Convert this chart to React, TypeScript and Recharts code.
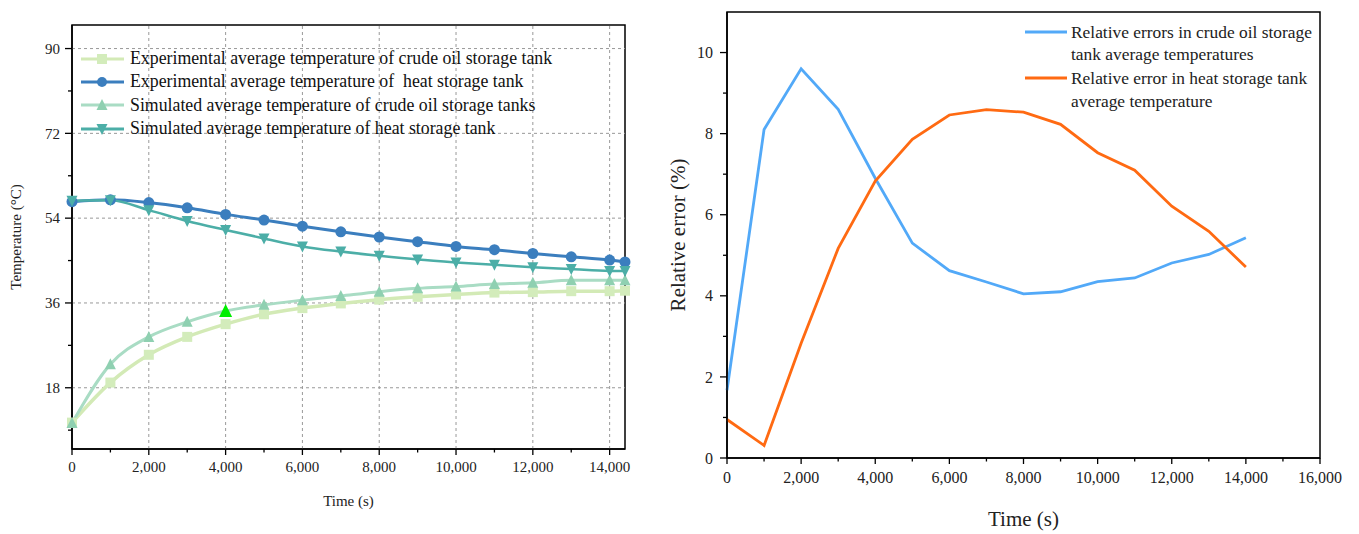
import React from "react";
import { LineChart, Line, XAxis, YAxis, ReferenceLine, ReferenceArea, Legend, Label } from "recharts";

// left chart: temperatures
const leftTimes = [0, 1000, 2000, 3000, 4000, 5000, 6000, 7000, 8000, 9000, 10000, 11000, 12000, 13000, 14000, 14400];
const expCrude = [10.6, 19.1, 25.0, 28.8, 31.5, 33.6, 34.9, 35.9, 36.7, 37.3, 37.8, 38.2, 38.3, 38.5, 38.5, 38.6];
const expHeat = [57.5, 57.9, 57.3, 56.2, 54.8, 53.6, 52.3, 51.1, 50.0, 49.0, 48.0, 47.3, 46.5, 45.8, 45.1, 44.7];
const simCrude = [10.5, 23.0, 28.8, 32.0, 34.3, 35.6, 36.6, 37.5, 38.4, 39.1, 39.5, 40.0, 40.3, 40.8, 40.8, 40.8];
const simHeat = [57.7, 57.8, 55.7, 53.4, 51.5, 49.7, 48.0, 46.9, 46.0, 45.2, 44.6, 44.1, 43.6, 43.2, 42.8, 42.8];
const highlightTime = 4000;

const leftXTicks = [0, 1000, 2000, 3000, 4000, 5000, 6000, 7000, 8000, 9000, 10000, 11000, 12000, 13000, 14000];
const leftYTicks = [9, 18, 27, 36, 45, 54, 63, 72, 81, 90];
const leftXGrid = [2000, 4000, 6000, 8000, 10000, 12000, 14000];
const leftYGrid = [18, 36, 54, 72, 90];

const leftNames = [
  "Experimental average temperature of crude oil storage tank",
  "Experimental average temperature of  heat storage tank",
  "Simulated average temperature of crude oil storage tanks",
  "Simulated average temperature of heat storage tank",
];

// right chart: relative errors
const rightTimes = [0, 1000, 2000, 3000, 4000, 5000, 6000, 7000, 8000, 9000, 10000, 11000, 12000, 13000, 14000];
const crudeError = [1.67, 8.1, 9.6, 8.6, 6.9, 5.3, 4.62, 4.34, 4.05, 4.1, 4.35, 4.44, 4.81, 5.02, 5.43];
const heatError = [0.95, 0.31, 2.83, 5.17, 6.83, 7.86, 8.46, 8.59, 8.53, 8.23, 7.53, 7.1, 6.21, 5.59, 4.71];
const rightXTicks = [0, 1000, 2000, 3000, 4000, 5000, 6000, 7000, 8000, 9000, 10000, 11000, 12000, 13000, 14000, 15000, 16000];
const rightYTicks = [0, 1, 2, 3, 4, 5, 6, 7, 8, 9, 10];

const rightNames = [
  ["Relative errors in crude oil storage", "tank average temperatures"],
  ["Relative error in heat storage tank", "average temperature"],
];

const FONT = "'Liberation Serif', 'Times New Roman', serif";
const TS = 7;
const TM = 4;

const leftData = leftTimes.map((t, i) => ({
  t,
  expCrude: expCrude[i],
  expHeat: expHeat[i],
  simCrude: simCrude[i],
  simHeat: simHeat[i],
}));

const rightData = rightTimes.map((t, i) => ({ t, crude: crudeError[i], heat: heatError[i] }));

const fmt = (v: number) => v.toLocaleString("en-US");

const xTick = (majorStep: number, fontSize: number, labelDy: number) => (props: any) => {
  const { x, y, payload } = props;
  const v = payload.value;
  const major = v % majorStep === 0;
  const y0 = y - TS - TM;
  return (
    <g key={"xt" + v}>
      <line x1={x} x2={x} y1={y0} y2={y0 + (major ? 6 : 3.5)} stroke="#000" strokeWidth={1.3} />
      {major && (
        <text x={x} y={y0 + labelDy} textAnchor="middle" fontFamily={FONT} fontSize={fontSize} fill="#222">
          {fmt(v)}
        </text>
      )}
    </g>
  );
};

const yTick = (majorStep: number, fontSize: number, gap: number) => (props: any) => {
  const { x, y, payload } = props;
  const v = payload.value;
  const major = v % majorStep === 0;
  const x0 = x + TS + TM;
  return (
    <g key={"yt" + v}>
      <line x1={x0} x2={x0 - (major ? 7 : 4)} y1={y} y2={y} stroke="#000" strokeWidth={1.3} />
      {major && (
        <text x={x0 - gap} y={y + fontSize * 0.35} textAnchor="end" fontFamily={FONT} fontSize={fontSize} fill="#222">
          {v}
        </text>
      )}
    </g>
  );
};

const marker = (shape: string, color: string, cx: number, cy: number, key: any, size = 11) => {
  const h = size / 2;
  if (shape === "square") return <rect key={key} x={cx - h} y={cy - h} width={size} height={size} fill={color} />;
  if (shape === "circle") return <circle key={key} cx={cx} cy={cy} r={h} fill={color} />;
  if (shape === "up")
    return <polygon key={key} points={`${cx},${cy - h - 1} ${cx - h - 0.5},${cy + h} ${cx + h + 0.5},${cy + h}`} fill={color} />;
  return <polygon key={key} points={`${cx},${cy + h + 1} ${cx - h - 0.5},${cy - h} ${cx + h + 0.5},${cy - h}`} fill={color} />;
};

const leftStyles = [
  { key: "expCrude", line: "#d3eab6", mark: "#d3ecbb", shape: "square", width: 3.5, size: 10 },
  { key: "expHeat", line: "#3b7ebe", mark: "#3b7ebe", shape: "circle", width: 3, size: 11 },
  { key: "simCrude", line: "#a9dcc4", mark: "#8fd0b1", shape: "up", width: 3, size: 10 },
  { key: "simHeat", line: "#4caea7", mark: "#4caea7", shape: "down", width: 2.5, size: 10 },
];

const LeftLegend = () => (
  <div style={{ fontFamily: FONT, fontSize: 17.8, color: "#111", lineHeight: "23.3px" }}>
    {leftStyles.map((s, i) => (
      <div key={s.key} style={{ display: "flex", alignItems: "center", height: 23.3, whiteSpace: "pre" }}>
        <svg width={48} height={16} style={{ marginRight: 3 }}>
          <line x1={2} x2={45} y1={8} y2={8} stroke={s.line} strokeWidth={3} />
          {marker(s.shape, s.mark, 23, 8, "m", 10)}
        </svg>
        <span>{leftNames[i]}</span>
      </div>
    ))}
  </div>
);

const rightColors = ["#52a9f8", "#ff6a12"];

const RightLegend = () => (
  <div style={{ fontFamily: FONT, fontSize: 17.4, color: "#222", lineHeight: "22.5px" }}>
    {rightNames.map((lines, i) => (
      <div key={i} style={{ display: "flex", alignItems: "flex-start", whiteSpace: "nowrap", marginBottom: 1.5 }}>
        <svg width={46} height={22} style={{ marginRight: 0 }}>
          <line x1={0} x2={42} y1={11} y2={11} stroke={rightColors[i]} strokeWidth={3} />
        </svg>
        <div>
          {lines.map((l) => (
            <div key={l} style={{ height: 22.5 }}>{l}</div>
          ))}
        </div>
      </div>
    ))}
  </div>
);

function TemperatureChart() {
  return (
    <LineChart width={640} height={534} data={leftData} margin={{ top: 25, right: 15, left: 0, bottom: 0 }}>
      <XAxis
        dataKey="t"
        type="number"
        domain={[0, 14400]}
        ticks={leftXTicks}
        interval={0}
        height={85}
        tickSize={TS}
        tickMargin={TM}
        tickLine={false}
        axisLine={{ stroke: "#000", strokeWidth: 1.5 }}
        tick={xTick(2000, 15, 23)}
      >
        <Label value="Time (s)" position="insideBottom" offset={28} style={{ fontFamily: FONT, fontSize: 15, fill: "#222" }} />
      </XAxis>
      <YAxis
        type="number"
        domain={[5, 95]}
        ticks={leftYTicks}
        interval={0}
        width={72}
        tickSize={TS}
        tickMargin={TM}
        tickLine={false}
        axisLine={{ stroke: "#000", strokeWidth: 1.5 }}
        tick={yTick(18, 15, 12)}
      >
        <Label
          value="Temperature (°C)"
          position="insideLeft"
          angle={-90}
          offset={16}
          style={{ fontFamily: FONT, fontSize: 15, fill: "#222", textAnchor: "middle" }}
        />
      </YAxis>
      {leftXGrid.map((v) => (
        <ReferenceLine key={"gx" + v} x={v} stroke="#999" strokeDasharray="3 3" strokeWidth={1} />
      ))}
      {leftYGrid.map((v) => (
        <ReferenceLine key={"gy" + v} y={v} stroke="#999" strokeDasharray="3 3" strokeWidth={1} />
      ))}
      <ReferenceArea x1={0} x2={14400} y1={5} y2={95} fill="none" stroke="#000" strokeWidth={1.5} />
      {leftStyles.map((s) => (
        <Line
          key={s.key}
          type="monotone"
          dataKey={s.key}
          stroke={s.line}
          strokeWidth={s.width}
          isAnimationActive={false}
          dot={(p: any) =>
            s.key === "simCrude" && p.payload.t === highlightTime
              ? marker("up", "#00ee00", p.cx, p.cy, p.index, 12)
              : marker(s.shape, s.mark, p.cx, p.cy, p.index, s.size)
          }
          activeDot={false}
        />
      ))}
      <Legend
        layout="horizontal"
        align="center"
        verticalAlign="middle"
        wrapperStyle={{ top: 47, left: 79, width: "auto" }}
        content={() => <LeftLegend />}
      />
    </LineChart>
  );
}

function ErrorChart() {
  return (
    <LineChart width={719} height={534} data={rightData} margin={{ top: 12, right: 39, left: 0, bottom: 0 }}>
      <XAxis
        dataKey="t"
        type="number"
        domain={[0, 16000]}
        ticks={rightXTicks}
        interval={0}
        height={76}
        tickSize={TS}
        tickMargin={TM}
        tickLine={false}
        axisLine={{ stroke: "#000", strokeWidth: 1.5 }}
        tick={xTick(2000, 16, 25)}
      >
        <Label value="Time (s)" position="insideBottom" offset={8} style={{ fontFamily: FONT, fontSize: 21, fill: "#222" }} />
      </XAxis>
      <YAxis
        type="number"
        domain={[0, 11]}
        ticks={rightYTicks}
        interval={0}
        width={87}
        tickSize={TS}
        tickMargin={TM}
        tickLine={false}
        axisLine={{ stroke: "#000", strokeWidth: 1.5 }}
        tick={yTick(2, 16, 14)}
      >
        <Label
          value="Relative error (%)"
          position="insideLeft"
          angle={-90}
          offset={38}
          style={{ fontFamily: FONT, fontSize: 21, fill: "#222", textAnchor: "middle" }}
        />
      </YAxis>
      <ReferenceArea x1={0} x2={16000} y1={0} y2={11} fill="none" stroke="#000" strokeWidth={1.5} />
      <Line type="linear" dataKey="crude" stroke={rightColors[0]} strokeWidth={2.8} dot={false} activeDot={false} isAnimationActive={false} />
      <Line type="linear" dataKey="heat" stroke={rightColors[1]} strokeWidth={2.8} dot={false} activeDot={false} isAnimationActive={false} />
      <Legend
        layout="horizontal"
        align="center"
        verticalAlign="middle"
        wrapperStyle={{ top: 20.5, left: 385, width: "auto" }}
        content={() => <RightLegend />}
      />
    </LineChart>
  );
}

export default function App() {
  return (
    <div style={{ position: "absolute", left: 0, top: 0, width: 1359, height: 534, background: "#fff" }}>
      <div style={{ position: "absolute", left: 0, top: 0 }}>
        <TemperatureChart />
      </div>
      <div style={{ position: "absolute", left: 640, top: 0 }}>
        <ErrorChart />
      </div>
    </div>
  );
}
